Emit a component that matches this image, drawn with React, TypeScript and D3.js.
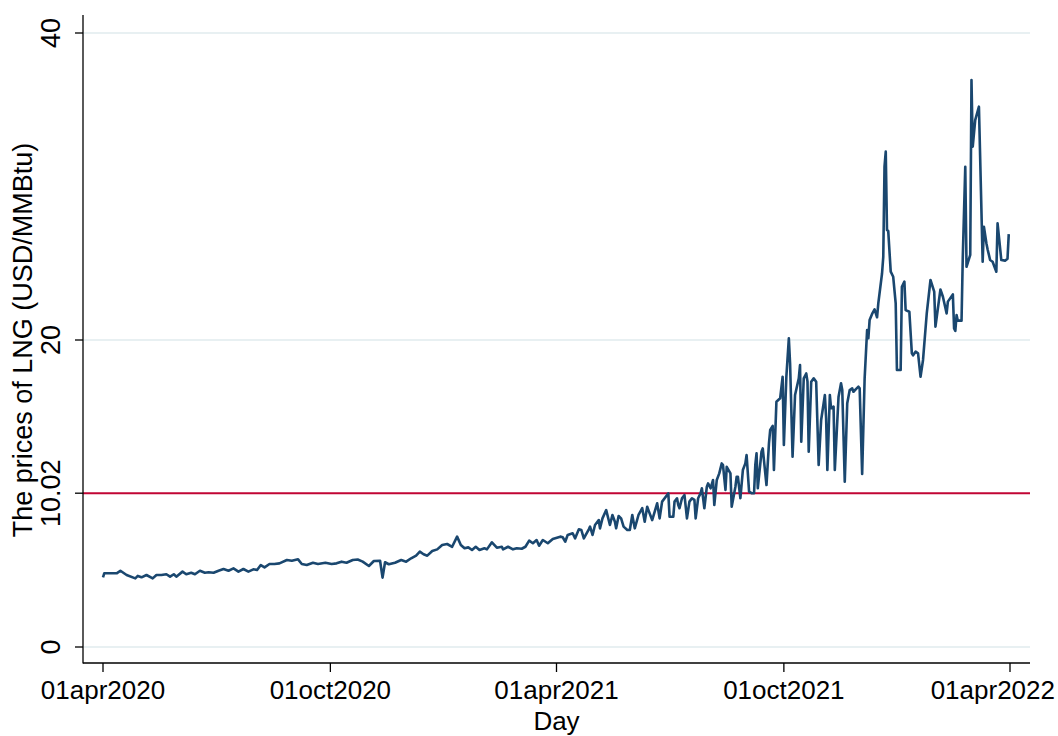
import React from "react";
import * as d3 from "d3";

// days since 01apr2020
const dayOffsets: number[] = [
  0, 1, 11, 14, 19, 26, 28, 31, 35, 40, 43, 47, 51, 54, 57, 59, 64, 67, 71, 74, 78, 82, 85, 89, 93, 97, 101, 105, 109, 113,
  117, 121, 124, 127, 130, 134, 138, 142, 148, 152, 157, 160, 164, 169, 173, 179, 184,
  188, 192, 196, 201, 205, 209, 214, 218, 223, 225, 227, 230, 235, 240, 244, 248, 252, 255, 258, 261, 265, 269, 273, 277,
  281, 285, 288, 291, 294, 297, 300, 303, 307, 309, 313, 317, 321, 322, 326, 330, 333, 337, 340, 343, 346, 349, 351, 354,
  358, 362, 368, 370, 372,
  374, 378, 380, 383, 385, 387, 391, 392, 394, 396, 399, 400, 402, 405, 408, 410, 412, 413, 415, 417, 419, 422, 424, 426,
  427, 428, 431, 434, 436, 438, 439, 442, 444, 446, 448, 450, 454, 455, 456, 459, 460, 462, 463, 464, 466, 468, 470, 472,
  474, 476, 477, 479, 481, 482, 484, 486, 487, 489, 491, 492, 494, 496, 498, 499, 501, 502, 505, 506, 509, 510, 511, 513,
  515, 517, 518, 520, 522, 524, 525, 526, 527, 530, 531, 534, 536,
  537, 539, 540, 542, 545, 547, 548, 550, 552, 553, 555, 557, 560, 561, 562, 564, 566, 567, 568, 570, 572, 574, 576, 578,
  581, 582, 583, 585, 586, 588, 589, 592, 594, 595, 597, 599, 601, 603, 604, 606, 608, 609, 611, 613, 615, 616,
  617, 619, 621, 623, 624, 627, 628, 629, 630, 631, 632, 634, 636, 638, 639, 642, 643, 645, 646, 649, 651, 652, 654, 656,
  658, 660, 663, 666, 669, 670, 674, 676, 679, 680, 684, 685, 686, 687, 688, 691, 692, 694, 695, 698, 699, 700, 702, 705,
  708, 709, 711, 712, 714, 716, 719, 720, 723, 726, 728, 729,
];

// USD/MMBtu
const prices: number[] = [
  4.54, 4.8, 4.8, 4.97, 4.69, 4.47, 4.63, 4.54, 4.69, 4.47, 4.69, 4.69, 4.74, 4.58, 4.74, 4.58, 4.91, 4.74, 4.84, 4.74,
  4.97, 4.84, 4.87, 4.84, 4.97, 5.08, 4.97, 5.12, 4.91, 5.08, 4.91, 5.06, 5.02, 5.34, 5.19, 5.41, 5.41, 5.45, 5.67, 5.62,
  5.71, 5.41, 5.34, 5.49, 5.41, 5.49, 5.41,
  5.45, 5.56, 5.49, 5.67, 5.7, 5.56, 5.28, 5.6, 5.62, 4.52, 5.52, 5.39, 5.49, 5.67, 5.56, 5.78, 5.95, 6.21, 6.04, 5.95,
  6.25, 6.36, 6.65, 6.71, 6.53, 7.19, 6.65, 6.43, 6.49, 6.32, 6.53, 6.32, 6.43, 6.36, 6.82, 6.47, 6.53, 6.36, 6.53, 6.36,
  6.43, 6.4, 6.53, 6.93, 6.76, 6.97, 6.6, 6.97, 6.76, 7.04, 7.19, 7.15, 6.86,
  7.3, 7.41, 7.08, 7.67, 7.62, 7.08, 7.67, 7.84, 7.3, 7.95, 8.27, 7.73, 8.38, 8.92, 7.95, 8.6, 8.16, 7.73, 8.53, 8.38,
  7.84, 7.62, 7.62, 8.6, 8.16, 7.73, 8.6, 9.04, 8.16, 9.14, 8.92, 8.27, 8.81, 9.36, 8.38, 9.47, 9.9, 10.01, 8.49, 8.49,
  9.47, 9.69, 9.25, 9.04, 9.69, 9.9, 8.38, 9.47, 9.69, 9.58, 8.38, 9.69, 10.02, 10.34, 9.04, 10.44, 10.66, 10.34, 10.88,
  9.25, 10.88, 11.31, 11.96, 11.85, 10.23, 11.74, 11.31, 9.14, 10.44, 11.09, 11.09, 9.69, 11.53, 11.96, 12.51, 10.12,
  10.02, 10.02, 11.86, 12.62, 10.34, 12.72, 12.94, 10.55, 13.27,
  14.14, 14.4, 11.53, 15.98, 16.2, 17.61, 13.16, 17.61, 20.11, 18.48, 12.4, 16.42, 17.5, 18.37, 13.38, 17.5, 17.82, 17.3,
  12.72, 17.28, 17.5, 17.28, 11.86, 14.79, 16.42, 14.9, 11.53, 16.42, 15.55, 15.66, 11.53, 16.31, 17.18, 16.74, 10.77,
  15.88, 16.74, 16.85, 16.63, 16.8, 16.96, 16.85, 11.27, 17.5, 20.65, 20.11,
  21.3, 21.7, 22.0, 21.48, 22.39, 24.33, 25.42, 31.29, 32.27, 27.17, 27.1, 24.45, 24.12, 22.39, 18.05, 18.05, 23.47,
  23.8, 21.95, 21.84, 19.13, 19.0, 19.24, 19.13, 17.61, 18.7, 21.73, 23.91, 23.15, 20.87, 23.29, 22.82, 21.73, 22.5,
  22.97, 20.76, 20.6, 21.63, 21.26, 21.26, 25.42, 31.29, 24.77, 25.54, 36.94, 32.59, 34.33, 35.2, 25.1, 27.38, 26.3,
  25.9, 25.21, 25.1, 24.45, 27.6, 25.21, 25.17, 25.3, 26.9,
];

const yTickValues: number[] = [0, 10.02, 20, 40];
const yTickLabels: string[] = ["0", "10.02", "20", "40"];
const yGridValues: number[] = [0, 20, 40];
const referenceValue = 10.02;

const xTickDates: string[] = ["2020-04-01", "2020-10-01", "2021-04-01", "2021-10-01", "2022-04-01"];
const xTickLabels: string[] = ["01apr2020", "01oct2020", "01apr2021", "01oct2021", "01apr2022"];

const W = 1058;
const H = 736;
const FONT = "'Liberation Sans', Arial, Helvetica, sans-serif";

function parseDate(s: string): Date {
  const [y, m, d] = s.split("-").map(Number);
  return new Date(y, m - 1, d);
}

export default function App() {
  const start = parseDate("2020-04-01");
  const data = dayOffsets.map((d, i) => ({ date: d3.timeDay.offset(start, d), value: prices[i] }));

  const x = d3.scaleTime().domain([parseDate("2020-04-01"), parseDate("2022-04-01")]).range([103, 1010]);
  const y = d3.scaleLinear().domain([0, 40]).range([647, 33]);

  const axisLeft = 83;
  const axisBottom = 663;
  const plotTop = 15;
  const plotRight = 1030;

  const line = d3
    .line<{ date: Date; value: number }>()
    .x((d) => x(d.date))
    .y((d) => y(d.value));

  return (
    <svg
      width={W}
      height={H}
      viewBox={`0 0 ${W} ${H}`}
      style={{ position: "absolute", left: 0, top: 0, background: "#ffffff" }}
    >
      <rect x={0} y={0} width={W} height={H} fill="#ffffff" />
      {yGridValues.map((v) => (
        <line key={"g" + v} x1={axisLeft} x2={plotRight} y1={y(v)} y2={y(v)} stroke="#e1ebee" strokeWidth={1.6} />
      ))}
      <line
        x1={axisLeft}
        x2={plotRight}
        y1={y(referenceValue)}
        y2={y(referenceValue)}
        stroke="#c10534"
        strokeWidth={2}
      />
      <path d={line(data) || ""} fill="none" stroke="#1a476f" strokeWidth={2.6} strokeLinejoin="round" />

      {/* axes */}
      <line x1={axisLeft} x2={axisLeft} y1={plotTop} y2={axisBottom + 0.5} stroke="#000" strokeWidth={1.3} />
      <line x1={axisLeft} x2={plotRight} y1={axisBottom} y2={axisBottom} stroke="#000" strokeWidth={1.3} />

      {yTickValues.map((v, i) => (
        <g key={"yt" + v}>
          <line x1={axisLeft - 8} x2={axisLeft} y1={y(v)} y2={y(v)} stroke="#000" strokeWidth={1.3} />
          <text
            transform={`translate(60,${y(v)}) rotate(-90)`}
            textAnchor="middle"
            fontFamily={FONT}
            fontSize={27}
            fill="#000"
          >
            {yTickLabels[i]}
          </text>
        </g>
      ))}

      {xTickDates.map((ds, i) => {
        const px = x(parseDate(ds));
        const last = i === xTickDates.length - 1;
        return (
          <g key={"xt" + ds}>
            <line x1={px} x2={px} y1={axisBottom} y2={axisBottom + 9} stroke="#000" strokeWidth={1.3} />
            <text
              x={last ? 1055 : px}
              y={699}
              textAnchor={last ? "end" : "middle"}
              fontFamily={FONT}
              fontSize={26}
              fill="#000"
            >
              {xTickLabels[i]}
            </text>
          </g>
        );
      })}

      <text x={(axisLeft + plotRight) / 2} y={730} textAnchor="middle" fontFamily={FONT} fontSize={26} fill="#000">
        Day
      </text>
      <text
        transform={`translate(32,340) rotate(-90)`}
        textAnchor="middle"
        fontFamily={FONT}
        fontSize={27}
        fill="#000"
      >
        The prices of LNG (USD/MMBtu)
      </text>
    </svg>
  );
}
